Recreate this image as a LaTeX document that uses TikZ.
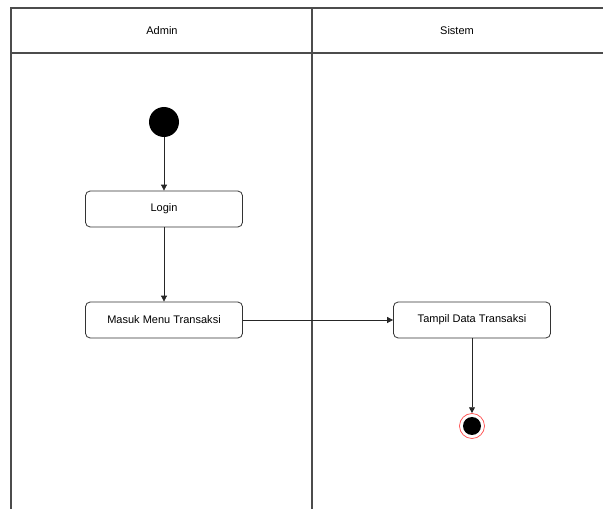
\documentclass[tikz,border=0pt]{standalone}
\usepackage{fontspec}
\setmainfont{Liberation Sans}
\usetikzlibrary{arrows.meta}
\tikzset{
  action/.style={draw=black!80, line width=0.7pt, rectangle, rounded corners=4pt, minimum width=157\pxu, minimum height=36\pxu, font=\fontsize{9.4}{11}\selectfont},
  flow/.style={-{Triangle[length=5pt, width=5pt]}, line width=0.7pt, draw=black!85},
  lane/.style={line width=0.9pt, draw=black!70}
}
\newlength{\pxu}
\setlength{\pxu}{0.03cm}
\begin{document}
\begin{tikzpicture}[x=0.03cm, y=-0.03cm]
    \useasboundingbox (0,0) rectangle (603,509);
    % Swimlanes
    \draw[lane] (11,509) -- (11,8) -- (603,8);
    \draw[lane] (11,53) -- (603,53);
    \draw[lane] (312,8) -- (312,509);
    \node[font=\fontsize{9.4}{11}\selectfont] (admin) at (162,31) {Admin};
    \node[font=\fontsize{9.4}{11}\selectfont] (sistem) at (457,31) {Sistem};
    % Start
    \node[circle, fill=black, minimum size=30\pxu, inner sep=0pt] (start) at (164,122) {};
    % Actions
    \node[action] (login) at (164,209) {Login};
    \node[action] (menu) at (164,320) {Masuk Menu Transaksi};
    \node[action] (tampil) at (472,320) {Tampil Data Transaksi};
    % End
    \node[circle, draw=red!70, line width=0.6pt, minimum size=25\pxu, inner sep=0pt] (end) at (472,426) {};
    \node[circle, fill=black, minimum size=18\pxu, inner sep=0pt] (endin) at (end) {};

    \draw[flow] (start) -- (login);
    \draw[flow] (login) -- (menu);
    \draw[flow] (menu) -- (tampil);
    \draw[flow] (tampil) -- (end);
\end{tikzpicture}
\end{document}
